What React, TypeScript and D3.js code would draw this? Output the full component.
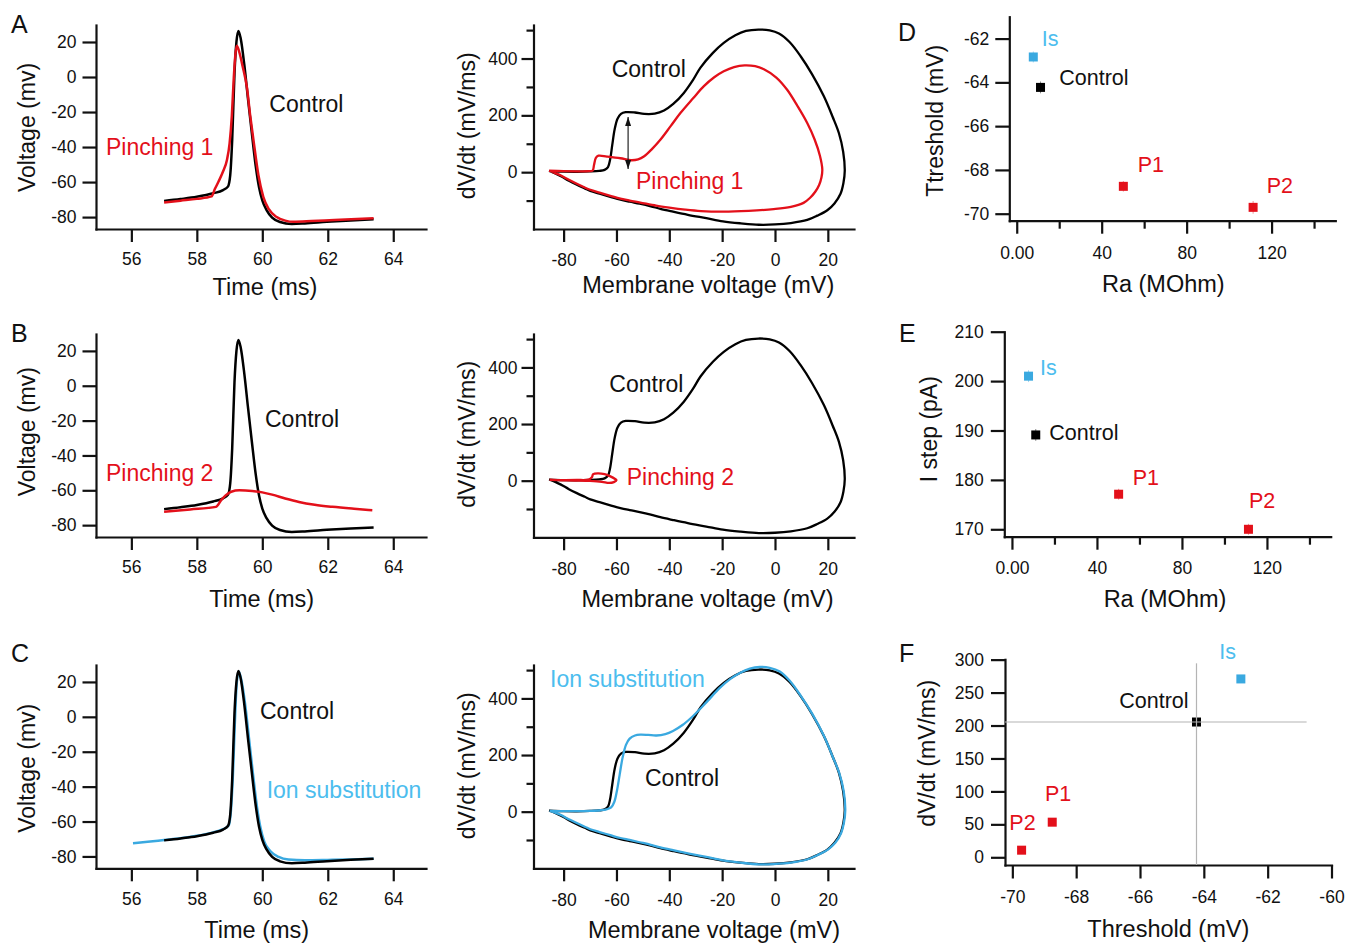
import React, { useEffect, useRef } from 'react';
import * as d3 from 'd3';

type Pt = [number, number];

const RED = '#e3101a';
const BLUE = '#3aa9e0';
const BLUE_TEXT = '#4cbdee';
const INK = '#111';
const FONT = '"Liberation Sans", Arial, Helvetica, sans-serif';

// ---- time course traces: [time (ms), voltage (mV)]
const controlTrace: Pt[] = [
  [57.0, -70.8], [57.5, -69.7], [58.0, -68.4], [58.5, -66.4], [58.8, -64.6], [58.95, -62.6],
  [59.02, -56], [59.08, -36], [59.15, 2], [59.21, 20], [59.27, 26.3], [59.34, 22], [59.45, 7],
  [59.56, -12], [59.68, -32], [59.8, -51], [59.9, -63], [60.0, -70.5], [60.13, -76], [60.3, -80.3],
  [60.54, -82.8], [60.9, -83.9], [61.3, -83.6], [61.97, -82.7], [62.7, -81.9], [63.4, -81.3],
];
const pinching1Trace: Pt[] = [
  [57.0, -71.6], [57.5, -70.6], [58.0, -69.6], [58.45, -68.2], [58.55, -64], [58.66, -59.8],
  [58.8, -54], [58.92, -47.4], [59.0, -38], [59.07, -22], [59.13, 0], [59.22, 17.9], [59.3, 14],
  [59.4, 6], [59.53, -6], [59.63, -22], [59.73, -36], [59.88, -56], [60.03, -68.4], [60.2, -75.5],
  [60.44, -80], [60.7, -82], [60.95, -82.7], [61.5, -82.3], [62.2, -81.6], [63.4, -80.6],
];
const pinching2Trace: Pt[] = [
  [57.0, -72.3], [57.8, -71.0], [58.58, -69.5], [58.75, -65.5], [58.88, -62.9], [59.05, -60.8],
  [59.3, -60], [59.69, -60.4], [60.0, -61.2], [60.3, -62.5], [60.7, -64.7], [61.12, -66.7],
  [61.6, -68.3], [62.14, -69.5], [62.8, -70.6], [63.36, -71.4],
];
const ionTrace: Pt[] = [
  [56.05, -72.4], [56.5, -71.6], [57.0, -70.6], [57.5, -69.6], [58.0, -68.2], [58.5, -66.2],
  [58.8, -64.4], [58.97, -62.3], [59.04, -54], [59.1, -34], [59.16, -4], [59.21, 17], [59.28, 26],
  [59.35, 22], [59.47, 8], [59.58, -10], [59.71, -32], [59.84, -52], [59.95, -64], [60.06, -71.5],
  [60.25, -77], [60.5, -80.3], [60.8, -81.8], [61.3, -82.2], [62.0, -82], [62.7, -81.7], [63.4, -81.3],
];

// ---- phase plots: [membrane voltage (mV), dV/dt (mV/ms)]
const controlPhase: Pt[] = [
  [-85.5, 4], [-80, 2], [-75, 1.5], [-70, 2.5], [-66.5, 4.5], [-64.5, 8], [-63.2, 18], [-62.4, 45],
  [-61.6, 95], [-60.7, 150], [-59.6, 188], [-58.3, 205], [-56.5, 211], [-53, 210], [-49.5, 205],
  [-45.5, 206], [-42, 217], [-38.5, 240], [-34.5, 279], [-31, 325], [-28.2, 368], [-23.5, 420],
  [-19.4, 455], [-15, 482], [-11, 497], [-6.3, 502], [-2, 499], [1.5, 488], [5.5, 458], [9.7, 408],
  [14, 345], [18.5, 267], [21.8, 195], [24.2, 137], [25.8, 72], [26.4, 5], [25.9, -38], [24.8, -76],
  [22.5, -110], [19.8, -134], [16, -153], [12.2, -168], [6, -179], [0, -184], [-6.1, -185],
  [-13, -180], [-19.7, -173], [-26, -162], [-33, -150], [-38.6, -139], [-43.4, -129], [-47, -120],
  [-51.2, -111], [-55, -104], [-58.5, -97], [-62, -88], [-66.4, -76], [-69.9, -66], [-72, -57],
  [-75, -44], [-78, -30], [-81, -14], [-83, -5], [-85.5, 4],
];
const pinching1Phase: Pt[] = [
  [-85.5, 5], [-80, 3.5], [-75, 3], [-70.5, 3.5], [-69, 6], [-68.5, 25], [-67.8, 50], [-66.8, 58],
  [-63.6, 55], [-58.5, 49], [-54.5, 42], [-51.8, 45], [-49.5, 56], [-46.5, 82], [-43.4, 114],
  [-39.5, 162], [-35.8, 208], [-31, 260], [-27, 302], [-23, 334], [-19.4, 355], [-15.5, 370],
  [-11.5, 376], [-7.5, 373], [-4.2, 362], [0.5, 333], [4.6, 290], [8.5, 233], [12.2, 173],
  [15, 115], [17, 58], [17.9, 10], [17.6, -18], [16.7, -45], [15.3, -68], [13.3, -90], [10.8, -108],
  [6, -122], [-0.5, -130], [-10, -136], [-19.4, -139], [-28, -137], [-34, -132], [-40, -125],
  [-45, -118], [-51, -107], [-55, -100], [-58.5, -93], [-62, -84], [-66.4, -72], [-69.9, -62],
  [-72, -54], [-75, -41], [-78, -27], [-81, -12], [-83, -4], [-85.5, 5],
];
const pinching2Phase: Pt[] = [
  [-85.3, 3], [-80, 2], [-75, 2.5], [-70.5, 4], [-69.3, 12], [-68.8, 23], [-67, 26], [-64.5, 23],
  [-62.5, 16], [-60.5, 6], [-60, 2], [-61, -5], [-62.8, -8], [-65.5, -4], [-70, -1], [-76, 0.5],
  [-80.5, 1.5], [-85.3, 3],
];
const ionPhase: Pt[] = [
  [-85.3, 3], [-80, 2], [-75, 2], [-70, 3], [-66, 5], [-63.8, 8], [-62, 15], [-60.8, 35],
  [-59.8, 75], [-58.8, 130], [-57.7, 190], [-56.4, 236], [-55, 258], [-53, 269], [-51, 272],
  [-48, 271], [-44.9, 269], [-41.5, 274], [-38.6, 285], [-35, 306], [-31, 338], [-26, 386],
  [-20.9, 437], [-17, 468], [-13.3, 490], [-9.5, 505], [-5.8, 511], [-2, 508], [1.8, 495],
  [5.5, 463], [9.7, 410], [14, 347], [18.5, 268], [21.8, 195], [24.3, 137], [26, 72], [26.6, 5],
  [26.1, -38], [25, -76], [22.8, -110], [20, -134], [16.2, -153], [12.4, -168], [6, -180],
  [-0.5, -185], [-6.1, -186], [-13, -180], [-19.7, -172], [-26, -160], [-33, -147], [-38.6, -136],
  [-43.4, -126], [-47, -117], [-51.2, -108], [-55, -100], [-58.5, -93], [-62, -84], [-66.4, -72],
  [-69.9, -62], [-72, -53], [-75, -40], [-78, -27], [-81, -12], [-83, -4], [-85.3, 3],
];
// double arrow in panel A phase plot: voltage, dV/dt from, dV/dt to
const arrowV = -55.6;
const arrowRange = [11, 194];

// ---- summary values (Is, Control, P1, P2)
const conditions = ['Is', 'Control', 'P1', 'P2'];
const condColors = [BLUE, '#000', RED, RED];
const raValues = [7.8, 11.2, 50.2, 111.3];
const thresholds = [-62.84, -64.23, -68.75, -69.71];
const thresholdErr = [0.25, 0.27, 0.24, 0.29];
const iStep = [201.0, 189.1, 177.1, 170.0];
const iStepErr = [1.2, 1.2, 1.1, 1.1];
const maxDvdt = [270.7, 205.3, 53.3, 10.8];

// ---- ticks
const timeTicks = [56, 58, 60, 62, 64];
const voltageTicks = [-80, -60, -40, -20, 0, 20];
const phaseXTicks = [-80, -60, -40, -20, 0, 20];
const phaseYMajor = [0, 200, 400];
const phaseYMinor = [-100, 100, 300, 500];
const raMajor = [0, 40, 80, 120];
const raMinor = [20, 60, 100, 140];
const thrTicks = [-70, -68, -66, -64, -62];
const iStepTicks = [170, 180, 190, 200, 210];
const fXTicks = [-70, -68, -66, -64, -62, -60];
const fYTicks = [0, 50, 100, 150, 200, 250, 300];

const App = () => {
  const ref = useRef<SVGSVGElement>(null);

  useEffect(() => {
    document.body.style.margin = '0';
    const svg = d3.select(ref.current);
    svg.selectAll('*').remove();

    svg.append('defs').append('marker')
      .attr('id', 'arrowHead').attr('viewBox', '0 0 9 6').attr('refX', 9).attr('refY', 3)
      .attr('markerWidth', 9).attr('markerHeight', 6).attr('markerUnits', 'userSpaceOnUse')
      .attr('orient', 'auto-start-reverse')
      .append('path').attr('d', 'M0,0L9,3L0,6Z').attr('fill', '#111');

    const mk = (x0, x1, y0, y1, xd, yd) => ({
      x: d3.scaleLinear().domain(xd).range([x0, x1]),
      y: d3.scaleLinear().domain(yd).range([y1, y0]),
      y1, x0,
    });

    const fmt = (d) => String(d);

    const style = (g, fs = 17.5) => {
      g.attr('font-family', FONT).attr('font-size', fs);
      g.select('.domain').attr('stroke', INK).attr('stroke-width', 2.2).attr('stroke-linecap', 'square');
      g.selectAll('.tick line').attr('stroke', INK).attr('stroke-width', 2.2);
      g.selectAll('.tick text').attr('fill', INK);
    };

    const axes = (p, o) => {
      const gx = svg.append('g').attr('transform', `translate(0,${p.y1})`)
        .call(d3.axisBottom(p.x).tickValues(o.xt).tickSize(o.xs || 13).tickSizeOuter(0)
          .tickPadding(o.xp || 11).tickFormat(o.xf || fmt));
      style(gx);
      if (o.xm) {
        const m = svg.append('g').attr('transform', `translate(0,${p.y1})`)
          .call(d3.axisBottom(p.x).tickValues(o.xm).tickSize(8).tickFormat(() => ''));
        m.select('.domain').remove();
        style(m);
      }
      const gy = svg.append('g').attr('transform', `translate(${p.x0},0)`)
        .call(d3.axisLeft(p.y).tickValues(o.yt).tickSize(o.ys || 13.5).tickSizeOuter(0)
          .tickPadding(o.yp || 6).tickFormat(fmt));
      style(gy);
      if (o.ym) {
        const m = svg.append('g').attr('transform', `translate(${p.x0},0)`)
          .call(d3.axisLeft(p.y).tickValues(o.ym).tickSize(7).tickFormat(() => ''));
        m.select('.domain').remove();
        style(m);
      }
    };

    const text = (x, y, s, color = INK, fs = 23, anchor = 'start') =>
      svg.append('text').attr('x', x).attr('y', y).attr('fill', color).attr('font-family', FONT)
        .attr('font-size', fs).attr('text-anchor', anchor).text(s);

    const yTitle = (x, y, s, fs = 23) =>
      svg.append('text').attr('transform', `translate(${x},${y}) rotate(-90)`).attr('fill', INK)
        .attr('font-family', FONT).attr('font-size', fs).attr('text-anchor', 'middle').text(s);

    const trace = (p, data, color, curve = d3.curveMonotoneX, w = 2.5) =>
      svg.append('path').datum(data).attr('fill', 'none').attr('stroke', color)
        .attr('stroke-width', w).attr('stroke-linejoin', 'round')
        .attr('d', d3.line<Pt>().x(d => p.x(d[0])).y(d => p.y(d[1])).curve(curve));

    const phaseCurve = d3.curveCatmullRom.alpha(0.5);

    // ---------- left column: time courses
    const tDom = [54.92, 65.0];
    const vDom = [-86.8, 29.7];
    const leftRows = [[25, 229], [334, 537], [665, 868.3]];
    const left = leftRows.map(r => mk(96, 426, r[0], r[1], tDom, vDom));
    const midRows = [[25, 229], [334, 537.3], [665, 868.3]];
    const mid = midRows.map(r => mk(533.5, 854, r[0], r[1], [-91.4, 29.9], [-200, 518]));

    left.forEach(p => axes(p, { xt: timeTicks, yt: voltageTicks }));
    mid.forEach(p => axes(p, { xt: phaseXTicks, yt: phaseYMajor, ym: phaseYMinor, ys: 12, yp: 4, xp: 12 }));

    // A
    trace(left[0], controlTrace, '#000');
    trace(left[0], pinching1Trace, RED);
    trace(mid[0], controlPhase, '#000', phaseCurve, 2.3);
    trace(mid[0], pinching1Phase, RED, phaseCurve, 2.3);
    svg.append('line')
      .attr('x1', mid[0].x(arrowV)).attr('x2', mid[0].x(arrowV))
      .attr('y1', mid[0].y(arrowRange[0])).attr('y2', mid[0].y(arrowRange[1]))
      .attr('stroke', '#111').attr('stroke-width', 1.1)
      .attr('marker-start', 'url(#arrowHead)').attr('marker-end', 'url(#arrowHead)');

    // B
    trace(left[1], controlTrace, '#000');
    trace(left[1], pinching2Trace, RED);
    trace(mid[1], controlPhase, '#000', phaseCurve, 2.3);
    trace(mid[1], pinching2Phase, RED, phaseCurve, 2.3);

    // C
    trace(left[2], ionTrace, BLUE);
    trace(left[2], controlTrace, '#000');
    trace(mid[2], controlPhase, '#000', phaseCurve, 2.3);
    trace(mid[2], ionPhase, BLUE, phaseCurve, 2.3);

    // left + middle titles
    [[295, 127.5], [606.7, 431.7], [938.3, 768.3]].forEach(([xb, yc], i) => {
      text([265, 261.7, 256.7][i], xb, 'Time (ms)', INK, 23.5, 'middle');
      yTitle(35, yc, 'Voltage (mv)', 23);
    });
    [[292.5, 125.8], [607.3, 434.2], [938.3, 765.8]].forEach(([xb, yc], i) => {
      text([708.3, 707.5, 714][i], xb, 'Membrane voltage (mV)', INK, 23.5, 'middle');
      yTitle(475, yc, 'dV/dt (mV/ms)', 23);
    });

    // trace annotations
    text(269.3, 111.7, 'Control');
    text(106, 155, 'Pinching 1', RED);
    text(611.7, 76.7, 'Control');
    text(636, 189.3, 'Pinching 1', RED);
    text(265, 427.3, 'Control');
    text(106, 480.7, 'Pinching 2', RED);
    text(609.3, 391.7, 'Control');
    text(626.7, 485, 'Pinching 2', RED);
    text(260, 719.3, 'Control');
    text(266.7, 798.3, 'Ion substitution', BLUE_TEXT);
    text(550, 687.3, 'Ion substitution', BLUE_TEXT);
    text(645, 786, 'Control');

    // ---------- right column: summaries
    const pD = mk(1009.3, 1335.3, 16.7, 220.7, [-3.5, 150], [-70.32, -61.0]);
    const pE = mk(1004.3, 1330.7, 331.7, 536.7, [-3.6, 150], [168.5, 210]);
    const pF = mk(1005, 1331.5, 659.3, 865, [-70.23, -60], [-11.7, 300.5]);
    const raFmt = (d) => (d === 0 ? '0.00' : String(d));

    axes(pD, { xt: raMajor, xm: raMinor, xf: raFmt, yt: thrTicks, xp: 13, ys: 14, yp: 6 });
    axes(pE, { xt: raMajor, xm: raMinor, xf: raFmt, yt: iStepTicks, xp: 12, ys: 13.5, yp: 7 });
    axes(pF, { xt: fXTicks, yt: fYTicks, xp: 12, xs: 13.5, ys: 14, yp: 7 });

    const S = 9;
    const scatter = (p, xs, ys, errs) => {
      conditions.forEach((c, i) => {
        if (errs) {
          svg.append('line').attr('x1', p.x(xs[i])).attr('x2', p.x(xs[i]))
            .attr('y1', p.y(ys[i] - errs[i])).attr('y2', p.y(ys[i] + errs[i]))
            .attr('stroke', condColors[i]).attr('stroke-opacity', 0.45).attr('stroke-width', 1);
        }
        svg.append('rect').attr('x', p.x(xs[i]) - S / 2).attr('y', p.y(ys[i]) - S / 2)
          .attr('width', S).attr('height', S).attr('fill', condColors[i]);
      });
    };

    scatter(pD, raValues, thresholds, thresholdErr);
    scatter(pE, raValues, iStep, iStepErr);
    scatter(pF, thresholds, maxDvdt, null);

    // crosshair through control in F
    const gray = '#b4b4b4';
    svg.append('line').attr('x1', pF.x(thresholds[1])).attr('x2', pF.x(thresholds[1]))
      .attr('y1', pF.y(294.4)).attr('y2', pF.y(-11.7)).attr('stroke', gray).attr('stroke-width', 1.2);
    svg.append('line').attr('x1', pF.x(-70.23)).attr('x2', pF.x(-60.78))
      .attr('y1', pF.y(maxDvdt[1])).attr('y2', pF.y(maxDvdt[1])).attr('stroke', gray).attr('stroke-width', 1.2);

    const labelColors = [BLUE_TEXT, INK, RED, RED];
    const lab = (pos) => pos.forEach(([x, y], i) => text(x, y, conditions[i], labelColors[i], 21.5));
    lab([[1041.7, 45.7], [1059.3, 85], [1137.7, 171.7], [1266.7, 192.7]]);
    lab([[1040, 375], [1049.3, 440], [1132.7, 485], [1249, 508.3]]);
    lab([[1219.3, 659.3], [1119.3, 707.7], [1045, 801], [1009.3, 830]]);

    text(1163.3, 291.7, 'Ra (MOhm)', INK, 23.5, 'middle');
    text(1165, 606.7, 'Ra (MOhm)', INK, 23.5, 'middle');
    text(1168.3, 936.7, 'Threshold (mV)', INK, 23.5, 'middle');
    yTitle(943, 120.8, 'Ttreshold (mV)');
    yTitle(936.5, 429.2, 'I step (pA)');
    yTitle(934.5, 753.3, 'dV/dt (mV/ms)');

    // panel letters
    [['A', 11, 32.5], ['B', 11, 341.5], ['C', 11, 662], ['D', 898, 41], ['E', 899, 342], ['F', 899, 662]]
      .forEach(([s, x, y]) => text(x, y, s as string, INK, 25));
  }, []);

  return <svg ref={ref} width={1358} height={944} style={{ display: 'block', background: '#fff' }} />;
};

export default App;
